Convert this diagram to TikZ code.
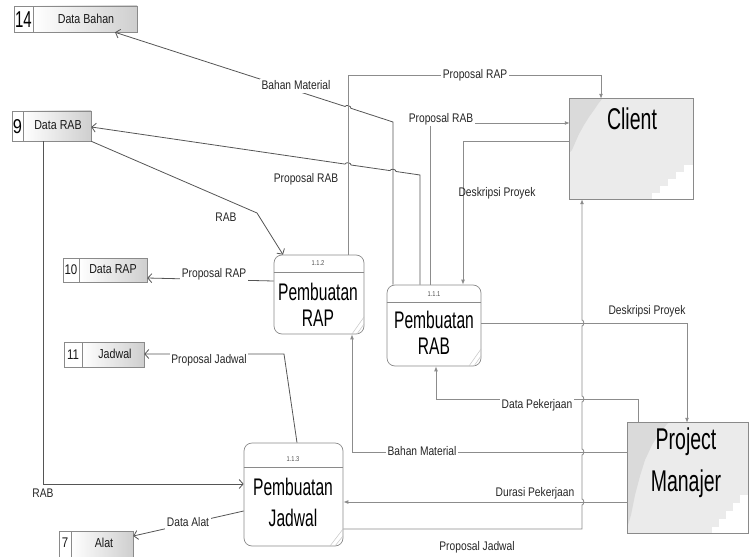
\documentclass[tikz,border=0pt]{standalone}
\usepackage{fontspec}
\setmainfont{Liberation Sans}[FakeStretch=0.82]
\newfontfamily\bigfont{Liberation Sans}[FakeStretch=0.65]
\usetikzlibrary{arrows.meta,calc}
\definecolor{dline}{HTML}{555555}
\definecolor{lline}{HTML}{8C8C8C}
\definecolor{bord}{HTML}{8A8A8A}
\definecolor{entfill}{HTML}{EBEBEB}
\definecolor{entdark}{HTML}{DADADA}
\tikzset{
  flowd/.style={draw=dline, line width=0.8pt, -{Straight Barb[length=4pt,width=9pt]}},
  flowl/.style={draw=lline, line width=0.9pt, -{Latex[length=5pt,width=4pt]}},
  lbl/.style={font=\fontsize{12.5}{14}\selectfont, fill=white, inner sep=1.5pt, text height=9pt, text depth=2.5pt, text=black!85},
  numcell/.style={draw=bord, fill=white, inner sep=0pt, line width=0.6pt},
  txtcell/.style={draw=bord, left color=white, right color=gray!38, inner sep=0pt, line width=0.6pt},
  stxt/.style={font=\fontsize{13}{15}\selectfont, inner sep=0pt, text=black!90},
  snum/.style={font=\fontsize{14}{16}\selectfont, inner sep=0pt, text=black!90},
  proc/.style={draw=bord, fill=white, rounded corners=8pt, inner sep=0pt, line width=0.7pt},
  pnum/.style={font=\fontsize{7}{8}\selectfont, inner sep=0pt, text=black!70},
  ptext/.style={font=\bigfont\fontsize{24}{26}\selectfont, align=center, inner sep=0pt},
  ent/.style={fill=entfill, inner sep=0pt},
  entbord/.style={draw=bord, line width=0.7pt},
  curl/.style={draw=gray!45, line width=0.5pt}
}
\begin{document}
\begin{tikzpicture}[x=1pt,y=-1pt]
\useasboundingbox (0,0) rectangle (751,556);

% ---------- data stores ----------
\node[numcell, minimum width=19pt, minimum height=26pt] (sbN) at (23.5,19) {};
\node[txtcell, minimum width=104pt, minimum height=26pt] (sbahan) at (85,19) {};
\node[font=\bigfont\fontsize{23}{24}\selectfont, inner sep=0pt] (sbNum) at (23.5,19.5) {14};
\node[stxt] (sbT) at (86,19) {Data Bahan};

\node[numcell, minimum width=11pt, minimum height=30pt] (srN) at (17.5,126) {};
\node[txtcell, minimum width=68pt, minimum height=30pt] (srab) at (57,126) {};
\node[font=\fontsize{20}{22}\selectfont, inner sep=0pt] (srNum) at (17.5,126.5) {9};
\node[stxt] (srT) at (58,125) {Data RAB};

\node[numcell, minimum width=16pt, minimum height=24pt] (spN) at (71,270) {};
\node[txtcell, minimum width=68pt, minimum height=24pt] (srap) at (113,270) {};
\node[snum] (spNum) at (71,270) {10};
\node[stxt] (spT) at (113,269.5) {Data RAP};

\node[numcell, minimum width=18pt, minimum height=25pt] (sjN) at (73,354.5) {};
\node[txtcell, minimum width=62pt, minimum height=25pt] (sjad) at (113,354.5) {};
\node[snum] (sjNum) at (73,354.5) {11};
\node[stxt] (sjT) at (115,354) {Jadwal};

\node[numcell, minimum width=12pt, minimum height=28pt] (saN) at (65,545) {};
\node[txtcell, minimum width=62pt, minimum height=28pt] (salat) at (102,545) {};
\node[snum] (saNum) at (65,543) {7};
\node[stxt] (saT) at (104,543) {Alat};

% ---------- external entities ----------
\node[ent, minimum width=123pt, minimum height=100pt] (client) at (631.5,149) {};
\fill[entdark] (570,99) -- (602,99) -- (598,104) -- (594,110) -- (589,117) -- (584,125) -- (579,134) -- (575,143) -- (572,150) -- (570,152) -- cycle;
\fill[white] (652,199) -- (652,193) -- (660,193) -- (660,186) -- (668,186) -- (668,179) -- (676,179) -- (676,172) -- (684,172) -- (684,165) -- (693,165) -- (693,199) -- cycle;
\draw[entbord] (client.north west) rectangle (client.south east);
\node[font=\bigfont\fontsize{30}{32}\selectfont, inner sep=0pt] (clientT) at (632,119) {Client};

\node[ent, minimum width=120pt, minimum height=110pt] (pm) at (688,478) {};
\fill[entdark] (628,423) -- (668,423) -- (660,432) -- (652,445) -- (645,460) -- (640,476) -- (635,495) -- (631,515) -- (628,525) -- cycle;
\fill[white] (712,533) -- (712,527) -- (719,527) -- (719,519) -- (726,519) -- (726,511) -- (733,511) -- (733,503) -- (740,503) -- (740,495) -- (748,495) -- (748,533) -- cycle;
\draw[entbord] (pm.north west) rectangle (pm.south east);
\node[font=\bigfont\fontsize{30}{42}\selectfont, align=center, inner sep=0pt] (pmT) at (686,463) {Project\\Manajer};

% ---------- processes ----------
\node[proc, minimum width=90pt, minimum height=79pt] (rap) at (319,294.5) {};
\draw[bord, line width=0.6pt] (rap.west |- 0,272) -- (rap.east |- 0,272);
\draw[curl] (352,334) -- (364,317);
\draw[curl] (357,334) -- (364,324);
\node[pnum] (rapN) at (318,263.5) {1.1.2};
\node[ptext] (rapT) at (318,305) {Pembuatan\\RAP};

\node[proc, minimum width=94pt, minimum height=81pt] (rab) at (434,325.5) {};
\draw[bord, line width=0.6pt] (rab.west |- 0,302) -- (rab.east |- 0,302);
\draw[curl] (469,366) -- (481,349);
\draw[curl] (474,366) -- (481,356);
\node[pnum] (rabN) at (434,294) {1.1.1};
\node[ptext] (rabT) at (434,333) {Pembuatan\\RAB};

\node[proc, minimum width=99pt, minimum height=103pt] (jad) at (293.5,494.5) {};
\draw[bord, line width=0.6pt] (jad.west |- 0,467) -- (jad.east |- 0,467);
\draw[curl] (330,546) -- (343,529);
\draw[curl] (335,546) -- (343,536);
\node[pnum] (jadN) at (293,459.5) {1.1.3};
\node[ptext, font=\bigfont\fontsize{24}{31}\selectfont] (jadT) at (293,502.5) {Pembuatan\\Jadwal};

% ---------- connectors ----------
\draw[flowd] (rab.north -| 393,0) -- (393,122) -- (350.9,108.3) to[bend right=90] (345.1,106.5) -- (sbahan.south -| 115,0);
\draw[flowd] (rab.north -| 420,0) -- (420,175) -- (396,171.5) to[bend right=90] (390,170.6) -- (351,165) to[bend right=90] (345,164.1) -- (srab.east |- 0,127);
\draw[flowl] (rab.north -| 430,0) |- (client.west |- 0,123);
\draw[flowl] (client.west |- 0,141) -| (rab.north -| 463,0);
\draw[flowl] (rap.north -| 348,0) -- (348,75) -| (client.north -| 601,0);
\draw[flowd] (srab.south east) -- (257,213) -- (rap.north -| 283,0);
\draw[flowd] (rap.west |- 0,281) -- (srap.east |- 0,278);
\draw[flowd] (jad.north -| 297,0) -- (284,354) -- (sjad.east |- 0,354);
\draw[flowd] (srab.south -| 43,0) |- (jad.west |- 0,484);
\draw[flowd] (jad.west |- 0,511) -- (salat.east |- 0,536);
\draw[flowl] (rab.east |- 0,323) -| (pm.north -| 687,0);
\draw[flowl] (jad.east |- 0,529) -- (582,529) -- (582,505) to[bend right=90] (582,499) -- (582,455) to[bend right=90] (582,449) -- (582,402) to[bend right=90] (582,396) -- (582,326) to[bend right=90] (582,320) -- (client.south -| 582,0);
\draw[flowl] (pm.north -| 638,0) -- (638,399) -| (rab.south -| 436,0);
\draw[flowl] (pm.west |- 0,452) -| (rap.south -| 352,0);
\draw[flowl] (pm.west |- 0,502) -- (jad.east |- 0,502);

% ---------- labels ----------
\node[lbl] (lA) at (296,86) {Bahan Material};
\node[lbl, fill=none] (lB) at (306,179) {Proposal RAB};
\node[lbl] (lC) at (441,119) {Proposal RAB};
\node[lbl, fill=none] (lD) at (497,193) {Deskripsi Proyek};
\node[lbl] (lE) at (475,75) {Proposal RAP};
\node[lbl, fill=none] (lF) at (226,218) {RAB};
\node[lbl] (lG) at (214,274) {Proposal RAP};
\node[lbl] (lH) at (209,360) {Proposal Jadwal};
\node[lbl, fill=none] (lI) at (43,494) {RAB};
\node[lbl] (lJ) at (188,523) {Data Alat};
\node[lbl, fill=none] (lK) at (647,311) {Deskripsi Proyek};
\node[lbl, fill=none] (lL) at (477,547) {Proposal Jadwal};
\node[lbl] (lM) at (537,405) {Data Pekerjaan};
\node[lbl] (lN) at (422,452) {Bahan Material};
\node[lbl, fill=none] (lO) at (535,493) {Durasi Pekerjaan};
\end{tikzpicture}
\end{document}
